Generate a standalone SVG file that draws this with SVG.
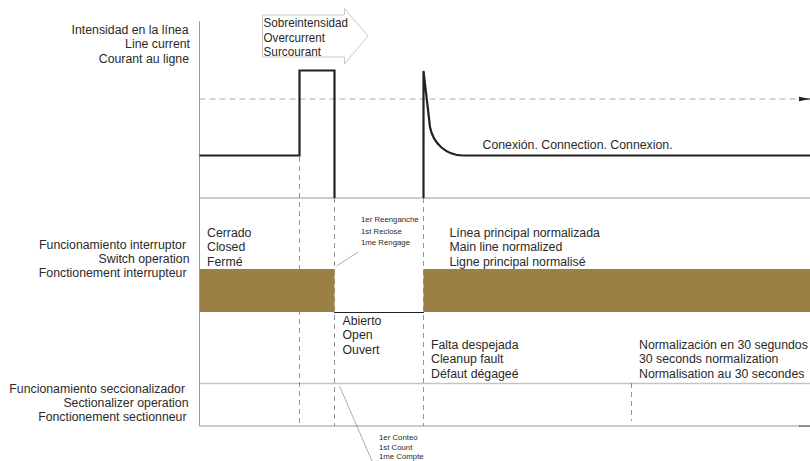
<svg xmlns="http://www.w3.org/2000/svg" width="810" height="461" viewBox="0 0 810 461">
<style>
text{font-family:"Liberation Sans",Arial,sans-serif;font-size:12.3px;fill:#2a2a2a}
.e{text-anchor:end}
.s{font-size:7.8px}
.t{font-size:13.2px}
.a{stroke:#999;stroke-width:1;fill:none}
.d{stroke:#777;stroke-width:.8;stroke-dasharray:5 4;fill:none}
.h{stroke:#aaa;stroke-width:1;stroke-dasharray:6 4;fill:none}
.c{stroke:#222;stroke-width:2.2;fill:none}
.l{stroke:#777;stroke-width:.6;fill:none}
.b{fill:#9a8044}
</style>
<defs><marker id="ah" markerWidth="12" markerHeight="6" refX="0" refY="3" orient="auto" markerUnits="userSpaceOnUse"><path d="M0 .8L11 3L0 5.2Z" fill="#222"/></marker></defs>
<rect width="810" height="461" fill="#fff"/>
<g id="connectors">
<path class="a" d="M199.500 21V426H800"/>
<path class="a" d="M199.500 198H810"/>
<path d="M199.500 383.500H810" stroke="#c4c4c4" stroke-width="1.300" fill="none"/>
<path class="h" d="M199.500 99H800"/>
<path class="d" d="M299.500 157V426M334.500 198V426M423.500 198V426M631.500 383V421"/>
<path d="M799 99H810M799 426H810" stroke="#222" stroke-width="1" marker-start="url(#ah)" fill="none"/>
<path class="c" d="M199.500 155.500H299.500V70.500H334.500V198"/>
<path class="c" d="M423.500 198V71L430 127C433 143 446 155.500 463 155.500H810"/>
<path d="M334 312.500H424" stroke="#222" stroke-width="1.200" fill="none"/>
<path class="l" d="M336.500 266L358 252M339.500 386L372 461"/>
</g>
<g id="overcurrent-arrow">
<path d="M262.500 15H344.500V8.500L368 36L344.500 64V57H262.500Z" fill="#fff" stroke="#c8c8c8"/>
<text class="t" x="263.500" y="27" textLength="84.500" lengthAdjust="spacingAndGlyphs">Sobreintensidad</text><text class="t" x="263.500" y="41.500" textLength="61.500" lengthAdjust="spacingAndGlyphs">Overcurrent</text><text class="t" x="263.500" y="56" textLength="57.500" lengthAdjust="spacingAndGlyphs">Surcourant</text>
</g>
<g id="closed-bar-1"><rect class="b" x="200" y="269" width="134.500" height="43"/></g>
<g id="closed-bar-2"><rect class="b" x="423.500" y="269" width="386.500" height="43"/></g>
<g id="line-current-label">
<text class="e" x="188.500" y="34">Intensidad en la línea</text><text class="e" x="190" y="48">Line current</text><text class="e" x="189" y="62.500">Courant au ligne</text>
</g>
<g id="switch-label">
<text class="e" x="186" y="249">Funcionamiento interruptor</text><text class="e" x="189.500" y="263">Switch operation</text><text class="e" x="186.500" y="277">Fonctionement interrupteur</text>
</g>
<g id="sectionalizer-label">
<text class="e" x="185" y="393">Funcionamiento seccionalizador</text><text class="e" x="188.500" y="407">Sectionalizer operation</text><text class="e" x="186.500" y="421">Fonctionement sectionneur</text>
</g>
<g id="closed-label"><text x="207" y="237">Cerrado</text><text x="207" y="251">Closed</text><text x="207" y="266">Fermé</text></g>
<g id="open-label"><text x="342.500" y="325">Abierto</text><text x="342.500" y="339">Open</text><text x="342.500" y="353.500">Ouvert</text></g>
<g id="reclose-label"><text class="s" x="361" y="222">1er Reenganche</text><text class="s" x="361" y="233.500">1st Reclose</text><text class="s" x="361" y="245">1me Rengage</text></g>
<g id="count-label"><text class="s" x="379" y="439.500">1er Conteo</text><text class="s" x="379" y="450">1st Count</text><text class="s" x="379" y="459.300">1me Compte</text></g>
<g id="connection-label"><text x="482.500" y="149">Conexión. Connection. Connexion.</text></g>
<g id="normalized-label"><text x="449.500" y="237">Línea principal normalizada</text><text x="449.500" y="251">Main line normalized</text><text x="449.500" y="266">Ligne principal normalisé</text></g>
<g id="fault-label"><text x="431" y="349">Falta despejada</text><text x="431" y="363">Cleanup fault</text><text x="431" y="378">Défaut dégageé</text></g>
<g id="normalization-label"><text x="639" y="349">Normalización en 30 segundos</text><text x="639" y="363">30 seconds normalization</text><text x="639" y="378">Normalisation au 30 secondes</text></g>
</svg>
